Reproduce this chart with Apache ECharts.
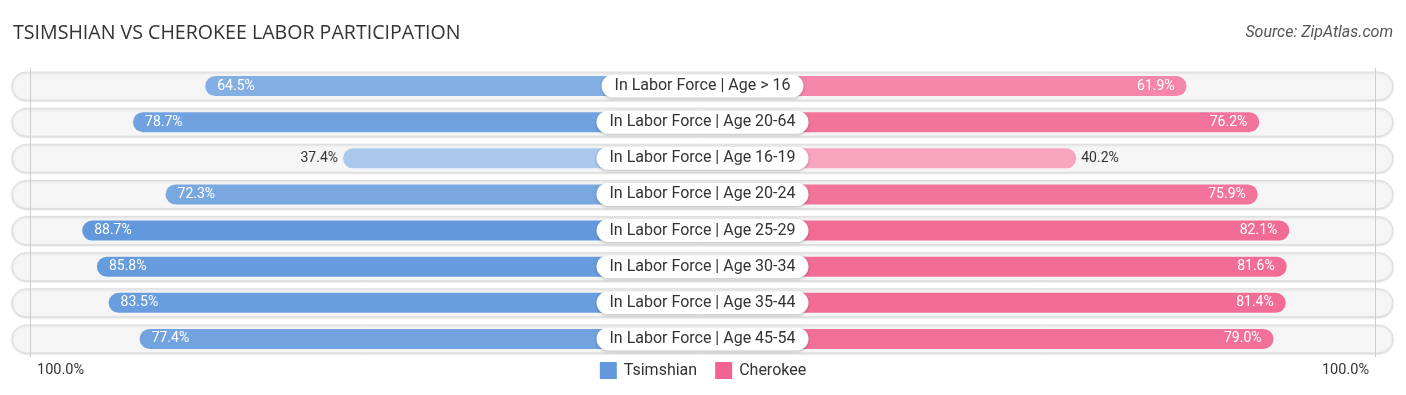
<!DOCTYPE html>
<html>
<head>
<meta charset="utf-8">
<script src="https://cdn.jsdelivr.net/npm/echarts@6/dist/echarts.min.js"></script>
<style>
  html, body { margin: 0; padding: 0; background: #ffffff; }
  #chart { width: 1406px; height: 395px; }
</style>
</head>
<body>
<div id="chart"></div>
<script>
const categories = [
  'In Labor Force | Age > 16',
  'In Labor Force | Age 20-64',
  'In Labor Force | Age 16-19',
  'In Labor Force | Age 20-24',
  'In Labor Force | Age 25-29',
  'In Labor Force | Age 30-34',
  'In Labor Force | Age 35-44',
  'In Labor Force | Age 45-54'
];
const tsimshian = [64.5, 78.7, 37.4, 72.3, 88.7, 85.8, 83.5, 77.4];
const cherokee = [61.9, 76.2, 40.2, 75.9, 82.1, 81.6, 81.4, 79.0];
const seriesNames = ['Tsimshian', 'Cherokee'];
const endLabels = ['100.0%', '100.0%'];

const OFFSET = 33.3;      // half-width of the centre label area, in axis units
const AXMAX = 135.8;      // extent of the background pills
const FONT = 'Roboto, "Noto Sans", sans-serif';

function mix(c1, c2, t) {
  t = Math.max(0, Math.min(1, t));
  const r = Math.round(c1[0] + (c2[0] - c1[0]) * t);
  const g = Math.round(c1[1] + (c2[1] - c1[1]) * t);
  const b = Math.round(c1[2] + (c2[2] - c1[2]) * t);
  return 'rgb(' + r + ',' + g + ',' + b + ')';
}
const blueLight = [169, 200, 236], blueDark = [99, 153, 220];
const pinkLight = [247, 168, 193], pinkDark = [240, 100, 143];

function barData(vals, sign, light, dark) {
  return vals.map(function (v) {
    const t = (v - 38) / (88 - 38);
    const outside = v < 50;
    return {
      value: sign * (v + OFFSET),
      itemStyle: { color: mix(light, dark, t) },
      label: {
        position: outside ? (sign < 0 ? 'left' : 'right') : (sign < 0 ? 'insideLeft' : 'insideRight'),
        color: outside ? '#333333' : '#ffffff',
        distance: outside ? 5 : 12
      }
    };
  });
}

const chart = echarts.init(document.getElementById('chart'), null, { renderer: 'canvas' });

const option = {
  animation: false,
  backgroundColor: '#ffffff',
  title: [
    {
      text: 'TSIMSHIAN VS CHEROKEE LABOR PARTICIPATION',
      left: 13, top: 23, padding: 0,
      textStyle: { fontFamily: '"Open Sans", sans-serif', fontWeight: 'normal', fontSize: 19.6, color: '#333333' }
    },
    {
      text: 'Source: ZipAtlas.com',
      right: 13, top: 25, padding: 0,
      textStyle: { fontFamily: FONT, fontStyle: 'italic', fontWeight: 'normal', fontSize: 16, color: '#555555' }
    }
  ],
  legend: {
    data: seriesNames,
    left: 'center',
    top: 357,
    icon: 'rect',
    itemWidth: 17,
    itemHeight: 17,
    itemGap: 18,
    textStyle: { fontFamily: FONT, fontSize: 16, color: '#333333', padding: [0, 0, 0, 2] }
  },
  grid: { left: 12, right: 13, top: 68, bottom: 38, containLabel: false },
  xAxis: {
    type: 'value', min: -AXMAX, max: AXMAX,
    axisLine: { show: false }, axisTick: { show: false },
    axisLabel: { show: false }, splitLine: { show: false }
  },
  yAxis: {
    type: 'category', data: categories, inverse: true,
    axisLine: { show: false }, axisTick: { show: false },
    axisLabel: { show: false }, splitLine: { show: false }
  },
  graphic: [
    { type: 'text', left: 37, top: 363, style: { text: endLabels[0], fontFamily: FONT, fontSize: 14.5, fill: '#333333' } },
    { type: 'text', right: 37, top: 363, style: { text: endLabels[1], fontFamily: FONT, fontSize: 14.5, fill: '#333333' } }
  ],
  series: [
    {
      type: 'custom',
      name: 'bg',
      z: 1,
      silent: true,
      data: categories.map(function (c, i) { return [0, i]; }),
      renderItem: function (params, api) {
        const idx = api.value(1);
        const p1 = api.coord([-AXMAX, idx]);
        const p2 = api.coord([AXMAX, idx]);
        return {
          type: 'rect',
          shape: { x: p1[0], y: p1[1] - 14, width: p2[0] - p1[0], height: 28, r: 14 },
          style: { fill: '#f5f5f5', stroke: '#dedede', lineWidth: 1, shadowBlur: 2, shadowColor: 'rgba(0,0,0,0.12)', shadowOffsetY: 1 }
        };
      },
      markLine: {
        silent: true,
        symbol: 'none',
        label: { show: false },
        lineStyle: { color: '#cccccc', width: 1, type: 'solid' },
        data: [{ xAxis: -132.2 }, { xAxis: 132.4 }]
      }
    },
    {
      type: 'bar',
      name: seriesNames[0],
      z: 2,
      barWidth: 20,
      barGap: '-100%',
      itemStyle: { color: 'rgb(99,153,220)', borderRadius: 10 },
      label: {
        show: true,
        fontFamily: FONT,
        fontSize: 14,
        formatter: function (p) { return tsimshian[p.dataIndex].toFixed(1) + '%'; }
      },
      data: barData(tsimshian, -1, blueLight, blueDark)
    },
    {
      type: 'bar',
      name: seriesNames[1],
      z: 2,
      barWidth: 20,
      barGap: '-100%',
      itemStyle: { color: 'rgb(240,100,143)', borderRadius: 10 },
      label: {
        show: true,
        fontFamily: FONT,
        fontSize: 14,
        formatter: function (p) { return cherokee[p.dataIndex].toFixed(1) + '%'; }
      },
      data: barData(cherokee, 1, pinkLight, pinkDark)
    },
    {
      type: 'custom',
      name: 'centre',
      z: 5,
      silent: true,
      data: categories.map(function (c, i) { return [0, i]; }),
      renderItem: function (params, api) {
        const idx = api.value(1);
        const p = api.coord([0, idx]);
        return {
          type: 'text',
          x: p[0], y: p[1],
          z2: 10,
          style: {
            text: categories[idx],
            fontFamily: FONT,
            fontSize: 16,
            fill: '#333333',
            align: 'center',
            verticalAlign: 'middle',
            backgroundColor: '#ffffff',
            borderRadius: 12,
            padding: [4, 13, 3, 13],
            shadowBlur: 3,
            shadowColor: 'rgba(0,0,0,0.25)',
            shadowOffsetY: 1
          }
        };
      }
    }
  ]
};
chart.setOption(option);
</script>
</body>
</html>
